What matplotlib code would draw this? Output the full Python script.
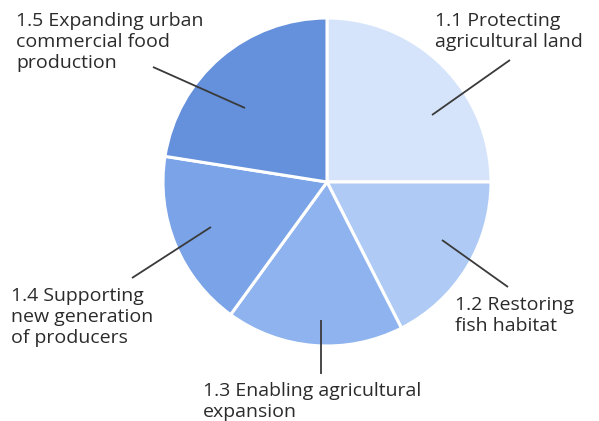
import matplotlib
matplotlib.use("Agg")
import matplotlib.pyplot as plt

labels = ["1.1 Protecting\nagricultural land",
          "1.2 Restoring\nfish habitat",
          "1.3 Enabling agricultural\nexpansion",
          "1.4 Supporting\nnew generation\nof producers",
          "1.5 Expanding urban\ncommercial food\nproduction"]
values = [25.0, 17.5, 17.5, 17.5, 22.5]
colors = ["#d6e4fb", "#afcbf5", "#8eb3ef", "#7ba4e8", "#6590db"]

W, H = 599, 421
fig = plt.figure(figsize=(W / 100, H / 100), dpi=100)
ax = fig.add_axes([0, 0, 1, 1])

cx, cy, r = 327, H - 182, 164
ax.pie(values, colors=colors, startangle=90, counterclock=False,
       center=(cx, cy), radius=r, frame=True,
       wedgeprops=dict(edgecolor="white", linewidth=2.2))
ax.set_xlim(0, W)
ax.set_ylim(0, H)
ax.set_aspect("equal")
ax.axis("off")

# leader lines (image pixel coords: inner point, outer point)
leaders = [((432, 115), (510, 60)),
           ((442, 240), (508, 287)),
           ((321, 320), (321, 374)),
           ((211, 227), (132, 278)),
           ((245, 108), (153, 67))]
text_pos = [(435, 12), (455, 296), (203, 382), (11, 287), (16, 12)]

for (p_in, p_out), (tx, ty), lab in zip(leaders, text_pos, labels):
    ax.plot([p_in[0], p_out[0]], [H - p_in[1], H - p_out[1]],
            color="#3a3a3a", lw=1.3, solid_capstyle="butt")
    ax.text(tx, H - ty, lab, ha="left", va="top", fontsize=14,
            family="Open Sans", color="#2b2b2b", linespacing=1.22)

fig.savefig("out.png", dpi=100)
